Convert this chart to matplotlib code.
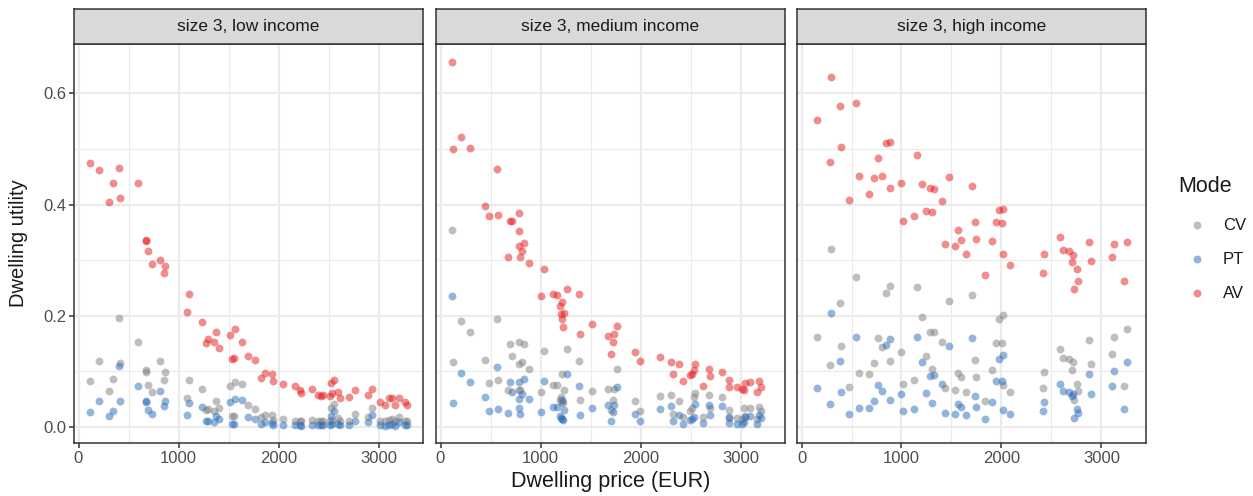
import matplotlib
matplotlib.use("Agg")
import matplotlib.pyplot as plt
from matplotlib.lines import Line2D

# ---- data: dwelling price (EUR) and utility per mode, one facet each ----
panel_titles = ["size 3, low income", "size 3, medium income", "size 3, high income"]
modes = ["CV", "PT", "AV"]

low_price = [110, 203, 303, 343, 403, 413, 590, 673, 675, 693, 733, 813, 867, 857,
             1100, 1080, 1237, 1290, 1270, 1373, 1357, 1400, 1517, 1560, 1637, 1530,
             1557, 1697, 1763, 1820, 1867, 1930, 1943, 2040, 2167, 2210, 2223, 2333,
             2393, 2427, 2443, 2510, 2520, 2550, 2537, 2597, 2610, 2700, 2767, 2897,
             2933, 3010, 3067, 3103, 3133, 3160, 3203, 3260, 3287]
low_av = [0.474, 0.463, 0.404, 0.439, 0.466, 0.412, 0.439, 0.337, 0.334, 0.317, 0.294,
          0.300, 0.289, 0.277, 0.239, 0.206, 0.188, 0.158, 0.151, 0.171, 0.152, 0.142,
          0.166, 0.176, 0.153, 0.122, 0.124, 0.128, 0.121, 0.088, 0.097, 0.096, 0.082,
          0.077, 0.073, 0.066, 0.061, 0.068, 0.058, 0.056, 0.058, 0.056, 0.079, 0.085,
          0.061, 0.062, 0.052, 0.053, 0.067, 0.058, 0.068, 0.044, 0.040, 0.052, 0.052,
          0.040, 0.052, 0.044, 0.040]
low_cv = [0.083, 0.119, 0.065, 0.086, 0.196, 0.115, 0.152, 0.103, 0.098, 0.076, 0.063,
          0.119, 0.098, 0.085, 0.085, 0.052, 0.069, 0.032, 0.031, 0.046, 0.028, 0.034,
          0.074, 0.081, 0.077, 0.020, 0.020, 0.039, 0.032, 0.017, 0.022, 0.022, 0.013,
          0.014, 0.011, 0.011, 0.010, 0.013, 0.010, 0.011, 0.010, 0.011, 0.034, 0.042,
          0.012, 0.016, 0.011, 0.011, 0.023, 0.017, 0.034, 0.010, 0.010, 0.012, 0.014,
          0.010, 0.017, 0.011, 0.011]
low_pt = [0.026, 0.047, 0.020, 0.029, 0.110, 0.047, 0.074, 0.046, 0.044, 0.030, 0.023,
          0.064, 0.047, 0.038, 0.043, 0.021, 0.035, 0.011, 0.010, 0.020, 0.008, 0.014,
          0.044, 0.050, 0.049, 0.006, 0.006, 0.017, 0.014, 0.006, 0.008, 0.007, 0.004,
          0.004, 0.004, 0.003, 0.002, 0.004, 0.003, 0.003, 0.003, 0.003, 0.020, 0.029,
          0.006, 0.005, 0.003, 0.003, 0.011, 0.008, 0.021, 0.003, 0.002, 0.004, 0.006,
          0.002, 0.008, 0.003, 0.003]

med_price = [116, 205, 129, 291, 569, 440, 487, 573, 781, 695, 715, 785, 788, 834, 814,
             679, 798, 887, 1036, 1006, 1122, 1168, 1268, 1384, 1215, 1195, 1235, 1208,
             1218, 1221, 1397, 1519, 1678, 1734, 1764, 1724, 1701, 1946, 1999, 2195,
             2304, 2386, 2324, 2426, 2549, 2532, 2516, 2499, 2681, 2690, 2628, 2814,
             2880, 2885, 2969, 3012, 3032, 3042, 3092, 3181, 3207, 3164]
med_av = [0.656, 0.521, 0.500, 0.501, 0.464, 0.397, 0.379, 0.381, 0.385, 0.371, 0.370,
          0.353, 0.326, 0.331, 0.317, 0.305, 0.305, 0.295, 0.284, 0.235, 0.240, 0.238,
          0.248, 0.239, 0.224, 0.217, 0.205, 0.203, 0.195, 0.179, 0.168, 0.186, 0.163,
          0.168, 0.182, 0.153, 0.132, 0.135, 0.119, 0.126, 0.117, 0.113, 0.096, 0.082,
          0.114, 0.102, 0.096, 0.094, 0.105, 0.092, 0.074, 0.099, 0.085, 0.072, 0.071,
          0.068, 0.066, 0.079, 0.080, 0.082, 0.071, 0.063]
med_cv = [0.354, 0.190, 0.116, 0.170, 0.194, 0.121, 0.079, 0.085, 0.152, 0.149, 0.128,
          0.113, 0.066, 0.149, 0.117, 0.066, 0.066, 0.104, 0.136, 0.063, 0.075, 0.076,
          0.140, 0.119, 0.095, 0.048, 0.067, 0.054, 0.043, 0.045, 0.049, 0.065, 0.069,
          0.069, 0.104, 0.048, 0.031, 0.047, 0.028, 0.055, 0.058, 0.046, 0.024, 0.017,
          0.061, 0.053, 0.034, 0.029, 0.058, 0.034, 0.018, 0.054, 0.031, 0.016, 0.016,
          0.015, 0.034, 0.020, 0.034, 0.036, 0.029, 0.015]
med_pt = [0.235, 0.097, 0.043, 0.081, 0.108, 0.053, 0.028, 0.032, 0.081, 0.080, 0.062,
          0.051, 0.034, 0.087, 0.060, 0.025, 0.024, 0.051, 0.082, 0.026, 0.035, 0.036,
          0.095, 0.074, 0.048, 0.019, 0.031, 0.016, 0.015, 0.013, 0.022, 0.034, 0.039,
          0.040, 0.071, 0.026, 0.011, 0.024, 0.011, 0.032, 0.037, 0.022, 0.010, 0.006,
          0.041, 0.017, 0.014, 0.013, 0.040, 0.021, 0.007, 0.037, 0.018, 0.007, 0.006,
          0.006, 0.009, 0.018, 0.019, 0.021, 0.016, 0.006]

high_price = [295, 159, 384, 540, 391, 285, 841, 884, 761, 1159, 579, 728, 808, 672, 884,
              473, 996, 1208, 1281, 1327, 1480, 1708, 1403, 1013, 1122, 1241, 1307, 1976,
              2019, 1738, 1946, 2009, 1569, 1599, 1748, 1903, 1433, 1539, 1645, 2012,
              2085, 1837, 2426, 2420, 2582, 2612, 2678, 2711, 2704, 2757, 2767, 2724,
              2876, 2893, 3125, 3101, 3254, 3224]
high_av = [0.629, 0.553, 0.577, 0.583, 0.503, 0.476, 0.511, 0.512, 0.483, 0.490, 0.452,
           0.448, 0.452, 0.419, 0.430, 0.409, 0.439, 0.437, 0.429, 0.428, 0.449, 0.433,
           0.407, 0.370, 0.379, 0.389, 0.386, 0.390, 0.392, 0.368, 0.368, 0.366, 0.355,
           0.336, 0.338, 0.335, 0.330, 0.325, 0.311, 0.311, 0.291, 0.273, 0.311, 0.277,
           0.341, 0.319, 0.317, 0.310, 0.297, 0.284, 0.263, 0.249, 0.332, 0.298, 0.329,
           0.306, 0.332, 0.262]
high_cv = [0.320, 0.162, 0.223, 0.269, 0.145, 0.111, 0.241, 0.253, 0.160, 0.251, 0.097,
           0.115, 0.143, 0.095, 0.118, 0.072, 0.134, 0.197, 0.170, 0.171, 0.227, 0.238,
           0.152, 0.077, 0.085, 0.128, 0.104, 0.194, 0.202, 0.120, 0.151, 0.151, 0.097,
           0.089, 0.089, 0.102, 0.070, 0.067, 0.063, 0.076, 0.063, 0.046, 0.099, 0.070,
           0.141, 0.124, 0.122, 0.116, 0.103, 0.077, 0.064, 0.048, 0.157, 0.114, 0.161,
           0.131, 0.176, 0.073]
high_pt = [0.205, 0.070, 0.119, 0.161, 0.062, 0.041, 0.147, 0.158, 0.076, 0.161, 0.034,
           0.046, 0.065, 0.034, 0.049, 0.023, 0.060, 0.116, 0.092, 0.093, 0.145, 0.160,
           0.078, 0.028, 0.032, 0.061, 0.043, 0.122, 0.130, 0.056, 0.082, 0.083, 0.041,
           0.036, 0.036, 0.045, 0.025, 0.024, 0.022, 0.030, 0.024, 0.014, 0.045, 0.028,
           0.077, 0.065, 0.062, 0.060, 0.055, 0.032, 0.025, 0.016, 0.095, 0.059, 0.100,
           0.073, 0.116, 0.032]

x_ticks = [0, 1000, 2000, 3000]
y_ticks = [0.0, 0.2, 0.4, 0.6]

# ---- styling ----
mode_colors = {"CV": "#7f7f7f", "PT": "#2b6cb8", "AV": "#e41a1c"}
text_dark = "#1a1a1a"
tick_grey = "#4d4d4d"
grid_col = "#ebebeb"
frame_col = "#333333"

plt.rcParams["font.family"] = ["Liberation Sans", "DejaVu Sans"]
W, H = 1253, 496
fig = plt.figure(figsize=(W / 100, H / 100), dpi=100)

panel_lr = [(74, 423), (436, 785), (797, 1146)]
top, bottom, strip_top = 44, 443, 9

panels = [
    (low_price, {"CV": low_cv, "PT": low_pt, "AV": low_av}),
    (med_price, {"CV": med_cv, "PT": med_pt, "AV": med_av}),
    (high_price, {"CV": high_cv, "PT": high_pt, "AV": high_av}),
]

for i, ((l, r), title, (price, vals)) in enumerate(zip(panel_lr, panel_titles, panels)):
    ax = fig.add_axes([l / W, 1 - bottom / H, (r - l) / W, (bottom - top) / H])
    ax.set_xlim(-45, 3445)
    ax.set_ylim(-0.029, 0.689)
    ax.set_facecolor("white")
    ax.set_xticks(x_ticks)
    ax.set_xticks([500, 1500, 2500], minor=True)
    ax.set_yticks(y_ticks)
    ax.set_yticks([0.1, 0.3, 0.5], minor=True)
    ax.grid(True, which="major", color=grid_col, linewidth=1.6, zorder=0)
    ax.grid(True, which="minor", color=grid_col, linewidth=0.8, zorder=0)
    ax.set_axisbelow(True)
    for mode in modes:
        ax.scatter(price, vals[mode], s=32, color=mode_colors[mode], alpha=0.5,
                   linewidths=0, zorder=3)
    for sp in ax.spines.values():
        sp.set_color(frame_col)
        sp.set_linewidth(1.1)
    ax.tick_params(axis="both", which="major", length=3.5, width=1.1, color=frame_col,
                   labelsize=12, labelcolor=tick_grey, pad=2)
    ax.tick_params(axis="both", which="minor", length=0)
    ax.set_xticklabels([str(t) for t in x_ticks])
    if i == 0:
        ax.set_yticklabels([f"{t:.1f}" for t in y_ticks])
        ax.set_ylabel("Dwelling utility", fontsize=14.5, color=text_dark, va="center")
        ax.yaxis.set_label_coords((19 - l) / (r - l), 0.5)
    else:
        ax.tick_params(axis="y", which="major", labelleft=False, length=0)
    if i == 1:
        ax.set_xlabel("Dwelling price (EUR)", fontsize=15.5, color=text_dark, va="center")
        ax.xaxis.set_label_coords(0.5, (bottom - 482) / (bottom - top))

    # facet strip
    sax = fig.add_axes([l / W, 1 - top / H, (r - l) / W, (top - strip_top) / H])
    sax.set_facecolor("#d9d9d9")
    sax.set_xticks([])
    sax.set_yticks([])
    for sp in sax.spines.values():
        sp.set_color(frame_col)
        sp.set_linewidth(1.1)
    sax.text(0.5, 0.5, title, ha="center", va="center", fontsize=12.5,
             color=text_dark, transform=sax.transAxes)

# legend, placed in figure pixel coordinates
fig.text(1178 / W, 1 - 187 / H, "Mode", fontsize=15.5, color=text_dark,
         ha="left", va="center")
for k, m in enumerate(modes):
    yk = 1 - (225 + 34 * k) / H
    fig.add_artist(Line2D([1197 / W], [yk], marker="o", linestyle="none",
                          markersize=5.7, markerfacecolor=mode_colors[m],
                          markeredgewidth=0, alpha=0.5, transform=fig.transFigure))
    fig.text(1223 / W, yk, m, fontsize=12, color=text_dark, ha="left", va="center")

fig.savefig("out.png", dpi=100, facecolor="white")
